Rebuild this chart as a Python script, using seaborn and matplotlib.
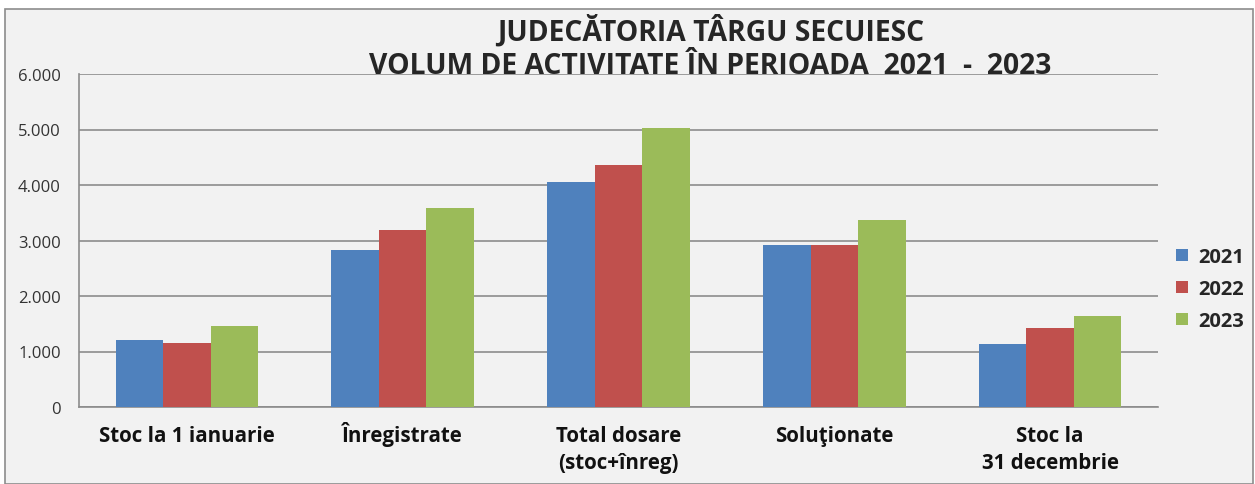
import pandas as pd
import matplotlib.pyplot as plt
import seaborn as sns
from matplotlib.patches import Rectangle
from matplotlib.ticker import FuncFormatter
from matplotlib.transforms import offset_copy

# values
categories = ["Stoc la 1 ianuarie", "Înregistrate", "Total dosare\n(stoc+înreg)",
              "Soluţionate", "Stoc la\n31 decembrie"]
years = ["2021", "2022", "2023"]
vals_2021 = [1205, 2830, 4053, 2914, 1127]
vals_2022 = [1157, 3190, 4353, 2926, 1421]
vals_2023 = [1451, 3585, 5030, 3375, 1643]
colors = ["#4F81BD", "#C0504D", "#9BBB59"]

rows = []
for year, vals in zip(years, [vals_2021, vals_2022, vals_2023]):
    for cat, v in zip(categories, vals):
        rows.append({"categorie": cat, "an": year, "valoare": v})
df = pd.DataFrame(rows)

sns.set_style("white")
plt.rcParams["font.family"] = ["Open Sans", "DejaVu Sans"]

fig = plt.figure(figsize=(12.55, 4.85), dpi=100)
fig.patch.set_facecolor("white")
# grey chart frame
fig.patches.append(Rectangle((5 / 1255, 0), 1248 / 1255, 475 / 485,
                             transform=fig.transFigure, facecolor="#F2F2F2",
                             edgecolor="#8C8C8C", linewidth=1.2, zorder=-1))

ax = fig.add_axes([79 / 1255, 1 - 408 / 485, 1079 / 1255, 333 / 485])
ax.patch.set_alpha(0)

sns.barplot(data=df, x="categorie", y="valoare", hue="an", palette=colors,
            width=0.66, saturation=1, edgecolor="none", ax=ax, zorder=3)

ax.set_ylim(0, 6000)
ax.set_yticks(range(0, 6001, 1000))
ax.yaxis.set_major_formatter(FuncFormatter(lambda v, p: f"{int(v):,}".replace(",", ".")))
ax.set_xlim(-0.5, len(categories) - 0.5)
ax.grid(axis="y", color="#8C8C8C", linewidth=1.2, zorder=0)
ax.set_axisbelow(True)
for s in ["top", "right"]:
    ax.spines[s].set_visible(False)
for s in ["left", "bottom"]:
    ax.spines[s].set_color("#8C8C8C")
    ax.spines[s].set_linewidth(1.2)

# ticks on category boundaries, labels drawn line by line on a common baseline
ax.set_xticks([i + 0.5 for i in range(-1, len(categories))], minor=True)
ax.tick_params(axis="x", which="minor", length=6, color="#8C8C8C", width=1.2)
ax.set_xticks(range(len(categories)))
ax.set_xticklabels([])
ax.tick_params(axis="x", which="major", length=0)
ax.tick_params(axis="y", length=5, color="#8C8C8C", width=1.2, pad=8)
for lbl in ax.get_yticklabels():
    lbl.set_fontsize(12)
    lbl.set_color("#333333")
ax.set_xlabel("")
ax.set_ylabel("")

for i, cat in enumerate(categories):
    for j, line in enumerate(cat.split("\n")):
        tr = offset_copy(ax.get_xaxis_transform(), fig=fig, y=-(34 + 27 * j), units="dots")
        ax.text(i, 0, line, transform=tr, ha="center", va="baseline",
                fontsize=14.8, fontweight="bold", color="#111111")

fig.text(0.566, 0.90, "JUDECĂTORIA TÂRGU SECUIESC\nVOLUM DE ACTIVITATE ÎN PERIOADA  2021  -  2023",
         ha="center", va="center", fontsize=20.3, fontweight="bold", linespacing=1.2)

leg = ax.legend(loc="center left", bbox_to_anchor=(1.0, 0.354), frameon=False,
                prop={"size": 14.5, "weight": "bold"}, handlelength=0.6, handleheight=0.6,
                handletextpad=0.5, labelspacing=0.6)

fig.savefig("out.png", dpi=100)
